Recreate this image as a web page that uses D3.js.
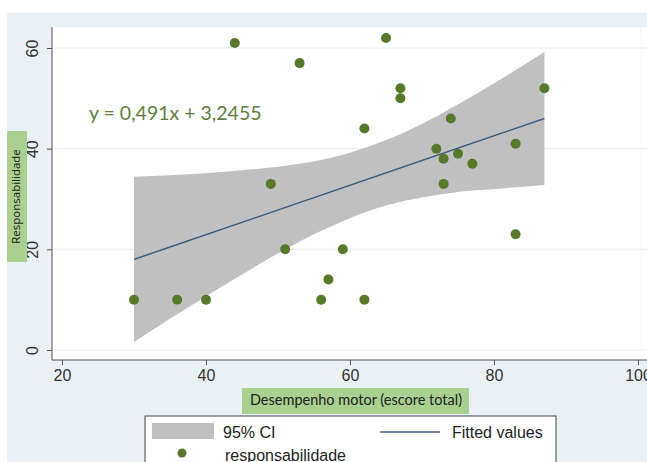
<!DOCTYPE html>
<html>
<head>
<meta charset="utf-8">
<script src="https://cdn.jsdelivr.net/npm/d3@7"></script>
<style>
html,body{margin:0;padding:0;background:#fff;}
svg{display:block;}
</style>
</head>
<body>
<svg id="chart" width="647" height="462"></svg>
<script>
// ---- data ----
const xValues = [30,36,40,44,49,51,53,56,57,59,62,62,65,67,67,72,73,73,74,75,77,83,83,87];
const yValues = [10,10,10,61,33,20,57,10,14,20,44,10,62,52,50,40,38,33,46,39,37,41,23,52];
const fitX = [30, 87];
const fitY = [18.0, 46.0];
const ciX     = [30,   35,   40,   45,   50,   55,   60,   65,   70,   75,   80,   87];
const ciLower = [1.6,  6.2,  10.7, 15.0, 19.2, 23.0, 26.2, 28.7, 30.3, 31.4, 32.0, 32.8];
const ciUpper = [34.4, 34.7, 35.1, 35.7, 36.4, 37.5, 39.2, 41.7, 44.9, 48.8, 53.0, 59.2];
const xTicks = [20,40,60,80,100];
const yTicks = [0,20,40,60];
const equationText = "y = 0,491x + 3,2455";
const xTitle = "Desempenho motor (escore total)";
const yTitle = "Responsabilidade";
const legendItems = ["95% CI", "Fitted values", "responsabilidade"];

// ---- drawing ----
const svg = d3.select("#chart");
const x = d3.scaleLinear().domain([20,100]).range([62,638]);
const y = d3.scaleLinear().domain([0,60]).range([350,48]);

// outer background
svg.append("rect").attr("x",7).attr("y",13).attr("width",640).attr("height",449).attr("fill","#eaf1f4");
// plot region
svg.append("rect").attr("x",52).attr("y",27).attr("width",595).attr("height",333).attr("fill","#ffffff");
svg.append("line").attr("x1",641).attr("x2",641).attr("y1",27).attr("y2",360).attr("stroke","#f2f5f8");

// gridlines
svg.append("g").selectAll("line").data(yTicks).join("line")
  .attr("x1",53).attr("x2",647).attr("y1",d=>y(d)).attr("y2",d=>y(d))
  .attr("stroke","#e9eff4").attr("stroke-width",1.2);

// CI band
const ciData = ciX.map((d,i)=>({x:d, lo:ciLower[i], hi:ciUpper[i]}));
svg.append("path").datum(ciData)
  .attr("d", d3.area().x(d=>x(d.x)).y0(d=>y(d.lo)).y1(d=>y(d.hi)).curve(d3.curveMonotoneX))
  .attr("fill","#c0c0c0");

// fitted line
svg.append("path").datum(fitX.map((d,i)=>[d,fitY[i]]))
  .attr("d", d3.line().x(d=>x(d[0])).y(d=>y(d[1])))
  .attr("fill","none").attr("stroke","#3b5d80").attr("stroke-width",1.5);

// points
svg.append("g").selectAll("circle").data(xValues.map((d,i)=>[d,yValues[i]])).join("circle")
  .attr("cx",d=>x(d[0])).attr("cy",d=>y(d[1])).attr("r",5)
  .attr("fill","#567a2a");

// axes
const xAxis = d3.axisBottom(x).tickValues(xTicks).tickSize(5).tickPadding(5);
const gx = svg.append("g").attr("transform","translate(0,360)").call(xAxis);
gx.select(".domain").attr("d","M52,0H647").attr("stroke","#555");
gx.selectAll(".tick line").attr("stroke","#555");
gx.selectAll("text").attr("font-family","Liberation Sans, Arial, sans-serif").attr("font-size",16).attr("fill","#333");

const yAxis = d3.axisLeft(y).tickValues(yTicks).tickSize(5).tickPadding(4);
const gy = svg.append("g").attr("transform","translate(52,0)").call(yAxis);
gy.select(".domain").attr("d","M0,27V360").attr("stroke","#555");
gy.selectAll(".tick line").attr("stroke","#555");
gy.selectAll(".tick text")
  .attr("font-family","Liberation Sans, Arial, sans-serif").attr("font-size",16).attr("fill","#333")
  .attr("x",0).attr("y",0).attr("dy","0").attr("text-anchor","middle")
  .attr("dominant-baseline","middle")
  .attr("transform","translate(-18,0) rotate(-90)");

// equation
svg.append("text").attr("x",89).attr("y",120).text(equationText)
  .attr("font-family","Lato, Open Sans, sans-serif").attr("font-size",19.5).attr("fill","#5f7f3c");

// y title
svg.append("rect").attr("x",7).attr("y",131).attr("width",20).attr("height",131).attr("fill","#a9d08e");
svg.append("text").attr("transform","translate(17,196.5) rotate(-90)")
  .attr("text-anchor","middle").attr("dominant-baseline","middle")
  .attr("font-family","Open Sans, sans-serif").attr("font-size",11.5).attr("fill","#222").text(yTitle);

// x title
svg.append("rect").attr("x",242).attr("y",388).attr("width",227).attr("height",26).attr("fill","#a9d08e");
svg.append("text").attr("x",356).attr("y",401.5)
  .attr("text-anchor","middle").attr("dominant-baseline","middle")
  .attr("font-family","Lato, sans-serif").attr("font-size",14.5).attr("fill","#222").text(xTitle);

// legend
const lg = svg.append("g");
lg.append("rect").attr("x",145).attr("y",416).attr("width",411).attr("height",60)
  .attr("fill","#fff").attr("stroke","#444").attr("stroke-width",1);
lg.append("rect").attr("x",152).attr("y",423).attr("width",62).attr("height",16).attr("fill","#c0c0c0");
lg.append("text").attr("x",223).attr("y",438).text(legendItems[0]);
lg.append("line").attr("x1",380).attr("x2",440).attr("y1",432).attr("y2",432).attr("stroke","#3b5d80").attr("stroke-width",1.5);
lg.append("text").attr("x",452).attr("y",438).text(legendItems[1]);
lg.append("circle").attr("cx",182).attr("cy",453).attr("r",4.5).attr("fill","#567a2a");
lg.append("text").attr("x",225).attr("y",461).text(legendItems[2]);
lg.selectAll("text").attr("font-family","Liberation Sans, Arial, sans-serif").attr("font-size",16).attr("fill","#222");
</script>
</body>
</html>
